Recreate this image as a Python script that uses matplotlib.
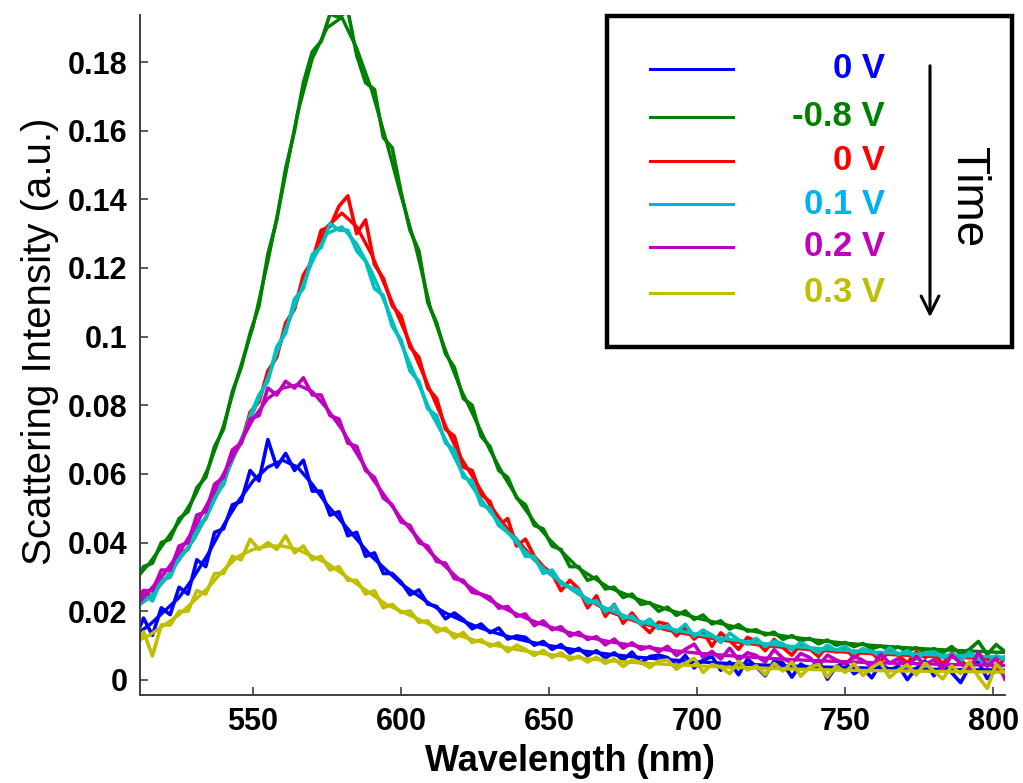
import numpy as np
import matplotlib

matplotlib.use("Agg")
import matplotlib.pyplot as plt
from matplotlib.lines import Line2D
from matplotlib.patches import Rectangle, FancyArrowPatch

plt.rcParams["font.family"] = ["Liberation Sans", "DejaVu Sans"]

# wavelength grids (nm)
wl_meas = np.arange(510, 805, 3)
wl_fit = list(range(510, 651, 5)) + list(range(660, 801, 10)) + [805]

labels = ["0 V", "-0.8 V", "0 V", "0.1 V", "0.2 V", "0.3 V"]
line_colors = ["#0000FF", "#008000", "#FF0000", "#00BFBF", "#BF00BF", "#BFBF00"]
text_colors = ["#0000FF", "#008000", "#FF0000", "#00B0F0", "#BF00BF", "#BFBF00"]

# measured spectra (3 nm steps, 510-804 nm)
meas_blue = [
    0.012, 0.018, 0.013, 0.021, 0.019, 0.027, 0.025, 0.035, 0.033, 0.043,
    0.044, 0.051, 0.052, 0.061, 0.058, 0.070, 0.062, 0.066, 0.061, 0.064,
    0.055, 0.055, 0.048, 0.049, 0.042, 0.043, 0.036, 0.037, 0.031, 0.031,
    0.0285, 0.0248, 0.0262, 0.0221, 0.0214, 0.0178, 0.0195, 0.0176, 0.0149, 0.0163,
    0.0138, 0.0151, 0.0119, 0.0128, 0.0124, 0.0101, 0.0112, 0.0089, 0.0103, 0.0078,
    0.0092, 0.0071, 0.0085, 0.0064, 0.0079, 0.0058, 0.0081, 0.0049, 0.0068, 0.0072,
    0.0065, 0.0042, 0.0071, 0.0035, 0.0058, 0.0068, 0.0028, 0.0052, 0.0015, 0.0061,
    0.0038, 0.0012, 0.0055, 0.0049, 0.0008, 0.0046, 0.0031, 0.0058, 0.0002, 0.0039,
    0.0052, 0.0018, 0.0034, 0.0006, 0.0049, 0.0027, 0.0041, 0.0001, 0.0033, 0.0055,
    0.0012, 0.0046, 0.0021, -0.0008, 0.0038, 0.0052, 0.0004, 0.0029, 0.0016,
]
meas_green = [
    0.028, 0.033, 0.034, 0.040, 0.041, 0.047, 0.049, 0.056, 0.059, 0.068,
    0.073, 0.084, 0.091, 0.101, 0.109, 0.124, 0.134, 0.149, 0.160, 0.174,
    0.183, 0.186, 0.194, 0.193, 0.195, 0.182, 0.174, 0.172, 0.158, 0.155,
    0.142, 0.131, 0.125, 0.110, 0.104, 0.095, 0.091, 0.082, 0.080, 0.071,
    0.068, 0.061, 0.059, 0.053, 0.051, 0.045, 0.044, 0.039, 0.038, 0.033,
    0.033, 0.029, 0.030, 0.0265, 0.027, 0.024, 0.025, 0.022, 0.0225, 0.020,
    0.0212, 0.0188, 0.0201, 0.0176, 0.0189, 0.0163, 0.0172, 0.0148, 0.0161, 0.0142,
    0.0146, 0.0131, 0.0139, 0.0118, 0.0129, 0.0114, 0.0121, 0.0105, 0.0116, 0.0101,
    0.0109, 0.0097, 0.0106, 0.0091, 0.0099, 0.0088, 0.0096, 0.0083, 0.0094, 0.0081,
    0.0091, 0.0079, 0.0097, 0.0075, 0.0089, 0.0112, 0.0074, 0.0103, 0.0082,
]
meas_red = [
    0.022, 0.026, 0.024, 0.029, 0.030, 0.037, 0.038, 0.044, 0.047, 0.054,
    0.057, 0.065, 0.069, 0.078, 0.081, 0.090, 0.094, 0.104, 0.108, 0.118,
    0.122, 0.131, 0.132, 0.138, 0.141, 0.130, 0.134, 0.121, 0.117, 0.109,
    0.106, 0.097, 0.094, 0.085, 0.082, 0.073, 0.071, 0.062, 0.061, 0.054,
    0.052, 0.045, 0.047, 0.039, 0.041, 0.036, 0.033, 0.031, 0.026, 0.029,
    0.0265, 0.021, 0.0245, 0.0185, 0.022, 0.0165, 0.0195, 0.0162, 0.0138, 0.0168,
    0.0162, 0.0128, 0.0151, 0.0119, 0.0141, 0.0098, 0.0137, 0.0115, 0.0089, 0.0124,
    0.0112, 0.0085, 0.0118, 0.0094, 0.0072, 0.0105, 0.0091, 0.0068, 0.0099, 0.0081,
    0.0093, 0.0064, 0.0088, 0.0079, 0.0055, 0.0086, 0.0071, 0.0049, 0.0082, 0.0066,
    0.0074, 0.0047, 0.0079, 0.0058, 0.0035, 0.0072, 0.0061, 0.0028, 0.0066,
]
meas_cyan = [
    0.020, 0.025, 0.023, 0.029, 0.030, 0.036, 0.038, 0.045, 0.047, 0.053,
    0.057, 0.066, 0.069, 0.077, 0.083, 0.087, 0.097, 0.101, 0.111, 0.114,
    0.124, 0.126, 0.133, 0.131, 0.131, 0.125, 0.122, 0.114, 0.112, 0.103,
    0.099, 0.090, 0.087, 0.079, 0.077, 0.069, 0.067, 0.059, 0.058, 0.051,
    0.050, 0.045, 0.043, 0.041, 0.036, 0.036, 0.031, 0.032, 0.028, 0.027,
    0.0262, 0.0224, 0.0231, 0.0198, 0.0218, 0.0179, 0.0186, 0.0161, 0.0177, 0.0149,
    0.0158, 0.0139, 0.0162, 0.0127, 0.0145, 0.0131, 0.0109, 0.0136, 0.0117, 0.0104,
    0.0121, 0.0097, 0.0113, 0.0105, 0.0088, 0.0109, 0.0094, 0.0079, 0.0101, 0.0086,
    0.0098, 0.0077, 0.0091, 0.0083, 0.0068, 0.0094, 0.0073, 0.0085, 0.0061, 0.0079,
    0.0082, 0.0064, 0.0076, 0.0055, 0.0081, 0.0062, 0.0044, 0.0071, 0.0058,
]
meas_magenta = [
    0.020, 0.026, 0.026, 0.032, 0.032, 0.039, 0.040, 0.048, 0.049, 0.057,
    0.059, 0.067, 0.069, 0.076, 0.077, 0.085, 0.083, 0.087, 0.085, 0.088,
    0.083, 0.083, 0.077, 0.076, 0.069, 0.068, 0.061, 0.059, 0.053, 0.051,
    0.046, 0.045, 0.040, 0.039, 0.0345, 0.034, 0.0295, 0.029, 0.0255, 0.025,
    0.0241, 0.0209, 0.0214, 0.0185, 0.0192, 0.0158, 0.0172, 0.0146, 0.0155, 0.0128,
    0.0139, 0.0118, 0.0126, 0.0102, 0.0119, 0.0093, 0.0108, 0.0089, 0.0097, 0.0082,
    0.0098, 0.0071, 0.0089, 0.0104, 0.0066, 0.0083, 0.0061, 0.0092, 0.0058, 0.0079,
    0.0071, 0.0052, 0.0088, 0.0063, 0.0049, 0.0077, 0.0065, 0.0041, 0.0072, 0.0058,
    0.0046, 0.0069, 0.0057, 0.0038, 0.0075, 0.0049, 0.0062, 0.0035, 0.0068, 0.0044,
    0.0059, 0.0031, 0.0072, 0.0048, 0.0026, 0.0081, 0.0039, 0.0063, 0.0002,
]
meas_yellow = [
    0.008, 0.014, 0.007, 0.016, 0.016, 0.020, 0.020, 0.026, 0.025, 0.031,
    0.031, 0.036, 0.035, 0.041, 0.038, 0.040, 0.038, 0.042, 0.037, 0.039,
    0.035, 0.036, 0.032, 0.033, 0.029, 0.029, 0.025, 0.026, 0.021, 0.022,
    0.0196, 0.0201, 0.0168, 0.0172, 0.0139, 0.0151, 0.0122, 0.0138, 0.0109, 0.0117,
    0.0098, 0.0108, 0.0082, 0.0101, 0.0089, 0.0071, 0.0086, 0.0065, 0.0079, 0.0058,
    0.0069, 0.0052, 0.0066, 0.0048, 0.0061, 0.0039, 0.0058, 0.0051, 0.0036, 0.0055,
    0.0058, 0.0031, 0.0049, 0.0063, 0.0022, 0.0045, 0.0037, 0.0018, 0.0054, 0.0029,
    0.0041, 0.0015, 0.0048, 0.0026, 0.0052, 0.0011, 0.0037, 0.0045, 0.0008, 0.0041,
    0.0022, 0.0047, 0.0013, 0.0036, 0.0051, 0.0007, 0.0029, 0.0044, 0.0014, 0.0049,
    0.0025, 0.0003, 0.0041, 0.0018, 0.0053, 0.0009, -0.0025, 0.0046, 0.0021,
]

# smooth fits
fit_blue = [
    0.013, 0.016, 0.020, 0.024, 0.030, 0.037, 0.045, 0.052, 0.058, 0.062,
    0.064, 0.062, 0.057, 0.051, 0.046, 0.041, 0.036, 0.032, 0.028, 0.025,
    0.022, 0.0195, 0.0175, 0.0157, 0.0142, 0.0129, 0.0118, 0.0108, 0.010,
    0.0086, 0.0075, 0.0066, 0.0059, 0.0053, 0.0048, 0.0044, 0.0041, 0.0038,
    0.0036, 0.0034, 0.0032, 0.0031, 0.003, 0.0029, 0.0028,
]
fit_green = [
    0.029, 0.034, 0.040, 0.046, 0.053, 0.062, 0.074, 0.089, 0.103, 0.122,
    0.143, 0.165, 0.181, 0.190, 0.193, 0.184, 0.172, 0.157, 0.141, 0.126,
    0.108, 0.096, 0.085, 0.076, 0.067, 0.059, 0.052, 0.046, 0.041,
    0.0325, 0.027, 0.0235, 0.0205, 0.018, 0.016, 0.014, 0.0127, 0.0116,
    0.0107, 0.0100, 0.0094, 0.0089, 0.0085, 0.0081, 0.0080,
]
fit_red = [
    0.021, 0.024, 0.029, 0.035, 0.041, 0.049, 0.058, 0.068, 0.078, 0.088,
    0.100, 0.111, 0.123, 0.132, 0.136, 0.132, 0.124, 0.114, 0.104, 0.094,
    0.084, 0.074, 0.065, 0.058, 0.051, 0.045, 0.040, 0.035, 0.031,
    0.025, 0.020, 0.0168, 0.0145, 0.0128, 0.0114, 0.0103, 0.0094, 0.0087,
    0.0081, 0.0076, 0.0072, 0.0068, 0.0065, 0.0062, 0.0061,
]
fit_cyan = [
    0.021, 0.024, 0.029, 0.035, 0.041, 0.049, 0.058, 0.068, 0.078, 0.088,
    0.100, 0.111, 0.122, 0.130, 0.132, 0.127, 0.119, 0.109, 0.098, 0.088,
    0.078, 0.070, 0.0615, 0.055, 0.049, 0.044, 0.039, 0.035, 0.031,
    0.025, 0.0205, 0.0172, 0.015, 0.0133, 0.0119, 0.0108, 0.0099, 0.0092,
    0.0086, 0.0081, 0.0077, 0.0073, 0.007, 0.0067, 0.0066,
]
fit_magenta = [
    0.021, 0.026, 0.031, 0.037, 0.044, 0.052, 0.060, 0.068, 0.076, 0.082,
    0.085, 0.086, 0.084, 0.079, 0.073, 0.066, 0.059, 0.053, 0.047, 0.042,
    0.037, 0.033, 0.029, 0.026, 0.0232, 0.0208, 0.0188, 0.017, 0.0155,
    0.013, 0.0112, 0.0098, 0.0087, 0.0078, 0.0071, 0.0065, 0.006, 0.0056,
    0.0053, 0.005, 0.0048, 0.0046, 0.0044, 0.0043, 0.0042,
]
fit_yellow = [
    0.011, 0.013, 0.016, 0.019, 0.023, 0.027, 0.032, 0.036, 0.038, 0.039,
    0.039, 0.038, 0.036, 0.034, 0.031, 0.028, 0.025, 0.022, 0.020, 0.018,
    0.016, 0.0143, 0.0128, 0.0115, 0.0104, 0.0095, 0.0087, 0.008, 0.0074,
    0.0064, 0.0056, 0.005, 0.0045, 0.0041, 0.0037, 0.0034, 0.0032, 0.003,
    0.0028, 0.0027, 0.0026, 0.0025, 0.0024, 0.0023, 0.0023,
]

meas_all = [meas_blue, meas_green, meas_red, meas_cyan, meas_magenta, meas_yellow]
fit_all = [fit_blue, fit_green, fit_red, fit_cyan, fit_magenta, fit_yellow]

W, H = 1023, 783
fig = plt.figure(figsize=(W / 100, H / 100), dpi=100)
ax = fig.add_axes([140 / W, 1 - 695 / H, 865 / W, 680 / H])

for meas, fit, c in zip(meas_all, fit_all, line_colors):
    ax.plot(wl_meas, meas, color=c, lw=2.6)
    ax.plot(wl_fit, fit, color=c, lw=2.4)

ax.set_xlim(511.8, 804)
ax.set_ylim(-0.0044, 0.1937)
ax.set_xticks([550, 600, 650, 700, 750, 800])
ax.set_yticks(np.arange(0, 0.181, 0.02))
ax.set_yticklabels(["0", "0.02", "0.04", "0.06", "0.08", "0.1",
                    "0.12", "0.14", "0.16", "0.18"])
ax.tick_params(direction="in", length=6, width=1.2, color="#404040",
               labelsize=22, pad=9)
for lab in ax.get_xticklabels() + ax.get_yticklabels():
    lab.set_fontweight("bold")
for side in ("top", "right"):
    ax.spines[side].set_visible(False)
for side in ("left", "bottom"):
    ax.spines[side].set_color("#404040")
    ax.spines[side].set_linewidth(1.4)

ax.set_xlabel("Wavelength (nm)", fontsize=26, fontweight="bold")
ax.xaxis.set_label_coords(0.497, -0.072)
ax.set_ylabel("Scattering Intensity (a.u.)", fontsize=29)
ax.yaxis.set_label_coords(-0.094, 0.52)

# legend box drawn by hand (right-aligned coloured labels, time arrow)
tf = fig.transFigure
fig.add_artist(Rectangle((607 / W, 1 - 347 / H), 405 / W, 331 / H, transform=tf,
                         fill=False, lw=3.2, ec="black"))
legend_y = [69, 117, 161, 204, 247, 293]
for lab, lc, tc, y in zip(labels, line_colors, text_colors, legend_y):
    lc = tc if lab == "0.1 V" else lc
    fig.add_artist(Line2D([650 / W, 733 / W], [1 - y / H] * 2, transform=tf,
                          color=lc, lw=2.2))
    fig.text(885 / W, 1 - y / H, lab, color=tc, ha="right", va="center",
             fontsize=25, fontweight="bold")
fig.add_artist(FancyArrowPatch((930 / W, 1 - 63 / H), (930 / W, 1 - 320 / H),
                               transform=tf, arrowstyle="->", mutation_scale=32,
                               lw=2.2, color="black"))
fig.text(968 / W, 1 - 197 / H, "Time", rotation=-90, ha="center", va="center",
         fontsize=33)

fig.savefig("out.png", dpi=100)
